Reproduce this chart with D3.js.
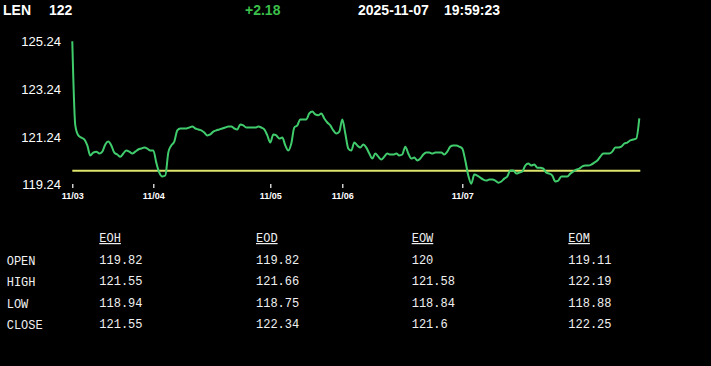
<!DOCTYPE html>
<html>
<head>
<meta charset="utf-8">
<script src="https://cdn.jsdelivr.net/npm/d3@7"></script>
<style>
  html, body { margin: 0; padding: 0; background: #000; }
  svg { display: block; }
</style>
</head>
<body>
<svg id="chart" width="711" height="366"></svg>
<script>
// ---------- data ----------
const symbol = "LEN";
const lastPrice = "122";
const change = "+2.18";
const dateStr = "2025-11-07";
const timeStr = "19:59:23";

const baseline = 119.82; // previous close reference line

const prices = [
  125.24, 121.72, 121.30, 121.21, 121.13, 120.88, 120.46, 120.58, 120.62, 120.54,
  120.62, 120.92, 121.04, 120.88, 120.58, 120.50, 120.41, 120.54, 120.67, 120.62,
  120.54, 120.62, 120.71, 120.75, 120.79, 120.75, 120.67, 120.67, 120.16, 119.74,
  119.58, 119.62, 120.58, 120.88, 121.04, 121.51, 121.59, 121.59, 121.59, 121.63,
  121.67, 121.59, 121.55, 121.51, 121.42, 121.30, 121.34, 121.46, 121.51, 121.55,
  121.59, 121.63, 121.67, 121.67, 121.59, 121.55, 121.76, 121.72, 121.63, 121.63,
  121.63, 121.63, 121.67, 121.63, 121.55, 121.30, 121.00, 121.34, 121.30, 121.17,
  121.21, 120.88, 120.67, 120.96, 121.63, 121.72, 121.97, 121.97, 121.97, 122.22,
  122.30, 122.18, 122.14, 122.22, 122.01, 121.84, 121.72, 121.51, 121.38, 121.46,
  121.97, 121.38, 120.75, 120.67, 121.00, 120.88, 120.79, 120.92, 120.79, 120.54,
  120.33, 120.54, 120.41, 120.29, 120.41, 120.54, 120.50, 120.50, 120.54, 120.46,
  120.50, 120.83, 120.54, 120.33, 120.37, 120.25, 120.33, 120.50, 120.58, 120.58,
  120.54, 120.58, 120.58, 120.58, 120.50, 120.62, 120.83, 120.88, 120.88, 120.83,
  120.75, 120.25, 119.62, 119.28, 119.66, 119.62, 119.53, 119.45, 119.41, 119.45,
  119.45, 119.41, 119.32, 119.37, 119.49, 119.58, 119.83, 119.83, 119.70, 119.74,
  119.79, 120.04, 120.12, 120.04, 120.08, 119.95, 119.95, 119.91, 119.74, 119.70,
  119.62, 119.37, 119.41, 119.58, 119.58, 119.58, 119.70, 119.79, 119.87, 119.91,
  120.00, 120.04, 120.04, 120.08, 120.16, 120.25, 120.41, 120.54, 120.54, 120.54,
  120.62, 120.79, 120.79, 120.83, 120.96, 121.00, 121.09, 121.13, 121.17, 122.01
];

const yTicks = [119.24, 121.24, 123.24, 125.24];
const xTickIndex = [0, 27, 66, 90, 130];
const xTickLabels = ["11/03", "11/04", "11/05", "11/06", "11/07"];

const tableColumns = ["EOH", "EOD", "EOW", "EOM"];
const tableRows = ["OPEN", "HIGH", "LOW", "CLOSE"];
const eohValues = ["119.82", "121.55", "118.94", "121.55"];
const eodValues = ["119.82", "121.66", "118.75", "122.34"];
const eowValues = ["120", "121.58", "118.84", "121.6"];
const eomValues = ["119.11", "122.19", "118.88", "122.25"];

// ---------- drawing ----------
const svg = d3.select("#chart");
svg.append("rect").attr("width", 711).attr("height", 366).attr("fill", "#000");

// header
const header = svg.append("g")
  .attr("font-family", "'Liberation Sans', Arial, sans-serif")
  .attr("font-weight", "bold")
  .attr("font-size", 14);
header.append("text").attr("x", 3).attr("y", 14.5).attr("fill", "#fff").text(symbol);
header.append("text").attr("x", 49).attr("y", 14.5).attr("fill", "#fff").text(lastPrice);
header.append("text").attr("x", 245).attr("y", 14.5).attr("fill", "#3cbf4a").text(change);
header.append("text").attr("x", 358).attr("y", 14.5).attr("fill", "#fff").text(dateStr);
header.append("text").attr("x", 444).attr("y", 14.5).attr("fill", "#fff").text(timeStr);

// scales
const x = d3.scaleLinear().domain([0, prices.length - 1]).range([72.3, 72.3 + 3 * (prices.length - 1)]);
const y = d3.scaleLinear().domain([119.24, 125.24]).range([184.6, 41.3]);

// y axis (labels only)
const yAxis = d3.axisLeft(y).tickValues(yTicks).tickFormat(d => d.toFixed(2)).tickSize(0).tickPadding(0);
const gy = svg.append("g").attr("transform", "translate(61,0)").call(yAxis);
gy.select(".domain").remove();
gy.selectAll("text")
  .attr("fill", "#fff")
  .attr("font-family", "'Liberation Sans', Arial, sans-serif")
  .attr("font-size", 13);

// x axis (tick marks + labels)
const xAxis = d3.axisBottom(x).tickValues(xTickIndex)
  .tickFormat((d, i) => xTickLabels[i]).tickSize(4).tickSizeOuter(0).tickPadding(5);
const gx = svg.append("g").attr("transform", "translate(0,184)").call(xAxis);
gx.select(".domain").remove();
gx.selectAll("line").attr("stroke", "#fff").attr("stroke-width", 1.2);
gx.selectAll("text")
  .attr("fill", "#fff")
  .attr("font-family", "'Liberation Sans', Arial, sans-serif")
  .attr("font-weight", "bold")
  .attr("font-size", 9);

// baseline
svg.append("line")
  .attr("x1", x(0)).attr("x2", x(prices.length - 1) + 1)
  .attr("y1", y(baseline)).attr("y2", y(baseline))
  .attr("stroke", "#dfe66c").attr("stroke-width", 2);

// price line
const line = d3.line()
  .x((d, i) => x(i))
  .y(d => y(d))
  .curve(d3.curveMonotoneX);
svg.append("path")
  .datum(prices)
  .attr("d", line)
  .attr("fill", "none")
  .attr("stroke", "#40cc6c")
  .attr("stroke-width", 2)
  .attr("stroke-linejoin", "round");

// table
const colX = [99.3, 256, 411.7, 568.3];
const rowY = [263.5, 284.5, 306.5, 328];
const table = svg.append("g")
  .attr("font-family", "'Liberation Mono', 'DejaVu Sans Mono', monospace")
  .attr("font-size", 12)
  .attr("fill", "#f0f0f0");
table.selectAll("text.colh").data(tableColumns).enter().append("text")
  .attr("class", "colh")
  .attr("x", (d, i) => colX[i]).attr("y", 242)
  .attr("text-decoration", "underline")
  .text(d => d);
table.selectAll("text.rowh").data(tableRows).enter().append("text")
  .attr("class", "rowh")
  .attr("x", 6.7).attr("y", (d, i) => rowY[i] + 1)
  .text(d => d);
const cols = [eohValues, eodValues, eowValues, eomValues];
cols.forEach((vals, ci) => {
  table.selectAll("text.v" + ci).data(vals).enter().append("text")
    .attr("class", "v" + ci)
    .attr("x", colX[ci]).attr("y", (d, i) => rowY[i])
    .text(d => d);
});
</script>
</body>
</html>
